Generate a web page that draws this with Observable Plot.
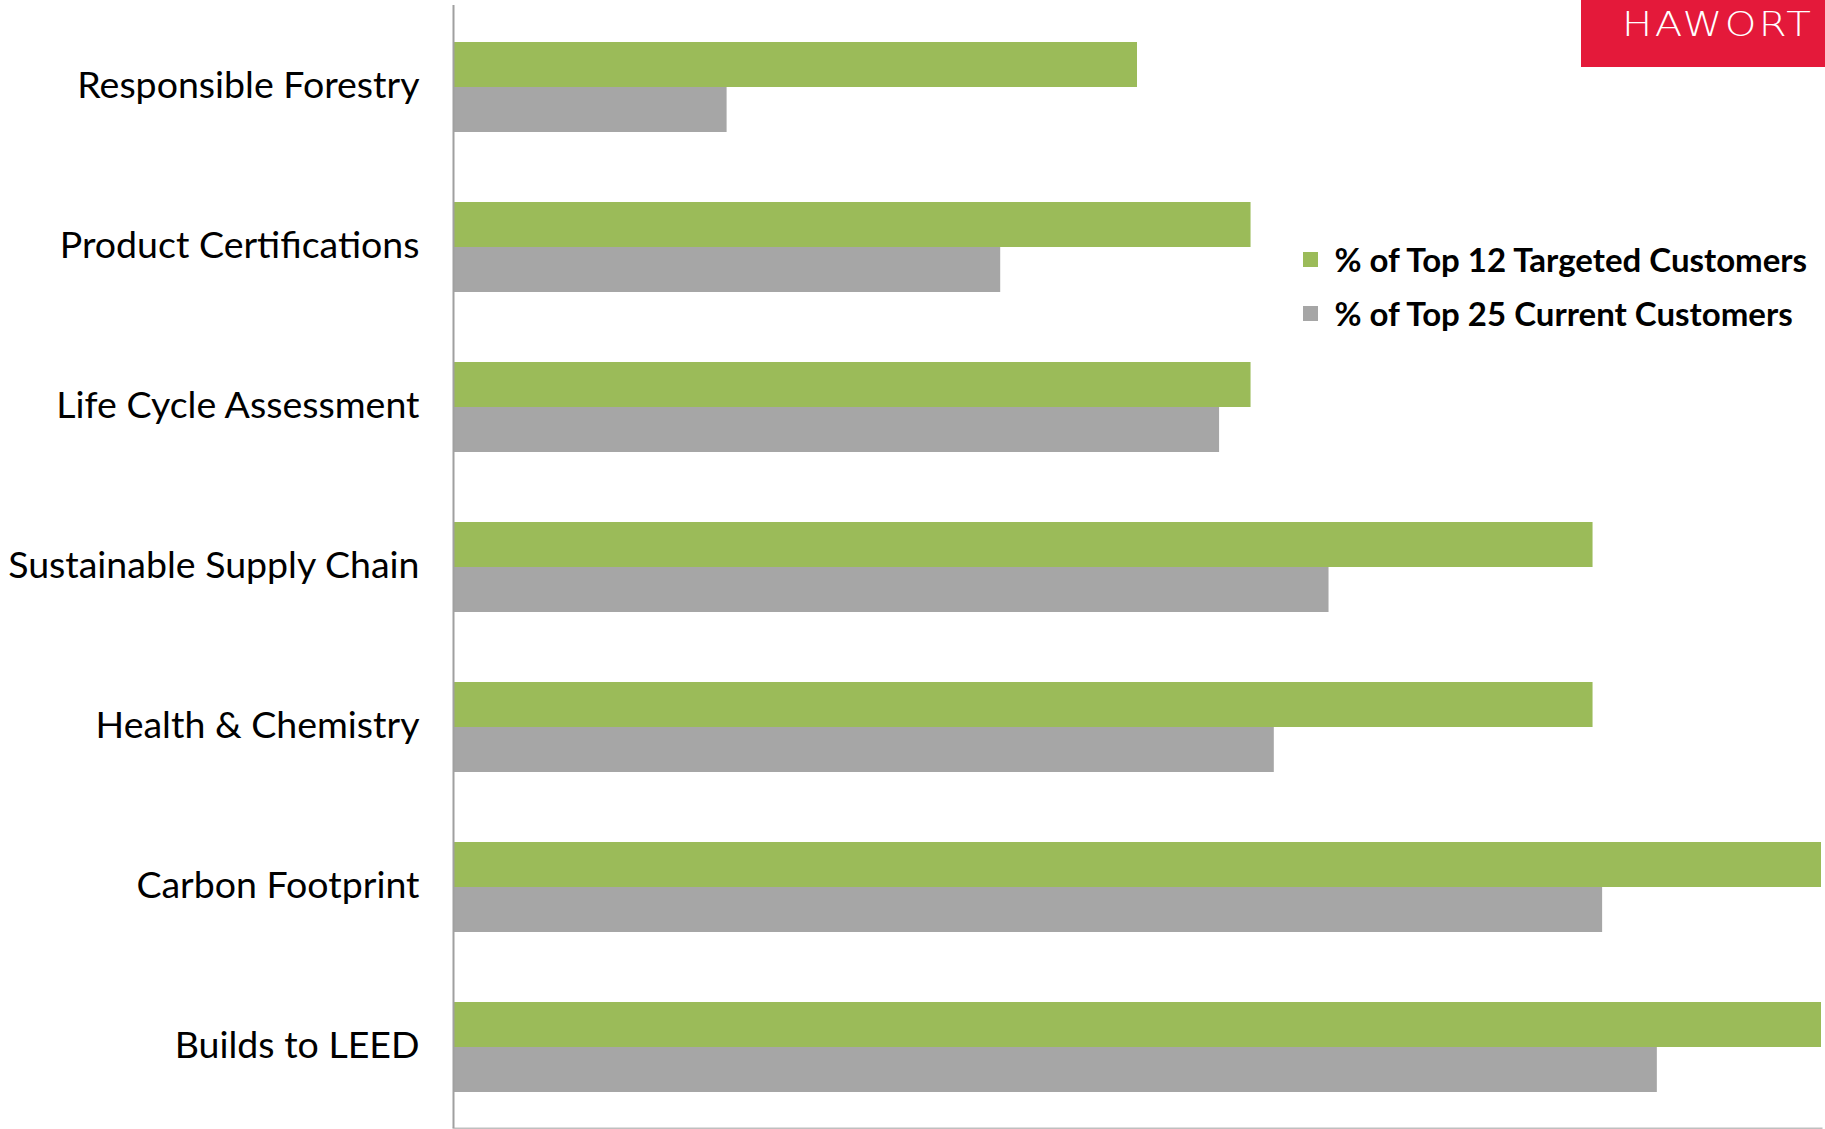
<!DOCTYPE html>
<html>
<head>
<meta charset="utf-8">
<script src="https://cdn.jsdelivr.net/npm/d3@7"></script>
<script src="https://cdn.jsdelivr.net/npm/@observablehq/plot@0.6"></script>
<style>
  html, body { margin: 0; padding: 0; background: #fff; overflow: hidden; }
  #wrap { position: relative; width: 1825px; height: 1129px; overflow: hidden; }
  #logo { position: absolute; left: 1581px; top: 0; width: 260px; height: 67px; background: #e4193a; overflow: hidden; }
  #logo span { position: absolute; left: 41px; top: 4px; color: #fff; font-family: "DejaVu Sans", sans-serif; font-weight: 200;
               font-size: 33px; line-height: 42px; letter-spacing: 2px; white-space: nowrap;
               transform: scaleX(1.22); transform-origin: left center; }
  #legend { position: absolute; left: 1303px; top: 233px; }
</style>
</head>
<body>
<div id="wrap">
  <div id="chart"></div>
  <div id="legend"></div>
  <div id="logo"><span>HAWORT</span></div>
</div>
<script>
const categories = ["Responsible Forestry", "Product Certifications", "Life Cycle Assessment", "Sustainable Supply Chain", "Health & Chemistry", "Carbon Footprint", "Builds to LEED"];
const seriesNames = ["% of Top 12 Targeted Customers", "% of Top 25 Current Customers"];
const targeted = [50, 58.3, 58.3, 83.3, 83.3, 100, 100];
const current = [20, 40, 56, 64, 60, 84, 88];
const colors = ["#9bbb59", "#a6a6a6"];

const rowsT = categories.map((c, i) => ({category: c, value: targeted[i], series: seriesNames[0]}));
const rowsC = categories.map((c, i) => ({category: c, value: current[i], series: seriesNames[1]}));

const font = "Lato, 'Open Sans', sans-serif";

const chart = Plot.plot({
  width: 1825,
  height: 1129,
  marginTop: 5,
  marginBottom: 1,
  marginLeft: 453,
  marginRight: 4,
  style: {fontFamily: font, fontSize: "37.5px", color: "#000", background: "#fff"},
  x: {domain: [0, 100], axis: null},
  y: {domain: categories, paddingInner: 0.439, paddingOuter: 0.2195, tickSize: 0, tickPadding: 34, label: null},
  color: {domain: seriesNames, range: colors},
  marks: [
    Plot.barX(rowsT, {x: "value", y: "category", fill: "series", insetBottom: 45, insetTop: 0}),
    Plot.barX(rowsC, {x: "value", y: "category", fill: "series", insetTop: 45, insetBottom: 0}),
    Plot.axisY({tickSize: 0, tickPadding: 34, dy: -2, label: null, fontSize: 37.5}),
    Plot.frame({anchor: "bottom", stroke: "#bfbfbf", strokeWidth: 2}),
    Plot.ruleX([0], {stroke: "#a0a0a0", strokeWidth: 2})
  ]
});
document.getElementById("chart").appendChild(chart);

const legend = Plot.legend({
  color: {domain: seriesNames, range: colors},
  columns: 1,
  swatchSize: 15,
  style: {fontFamily: font, fontSize: "33px", fontWeight: "bold", color: "#000", background: "transparent", lineHeight: "53px"}
});
document.getElementById("legend").appendChild(legend);
</script>
</body>
</html>
